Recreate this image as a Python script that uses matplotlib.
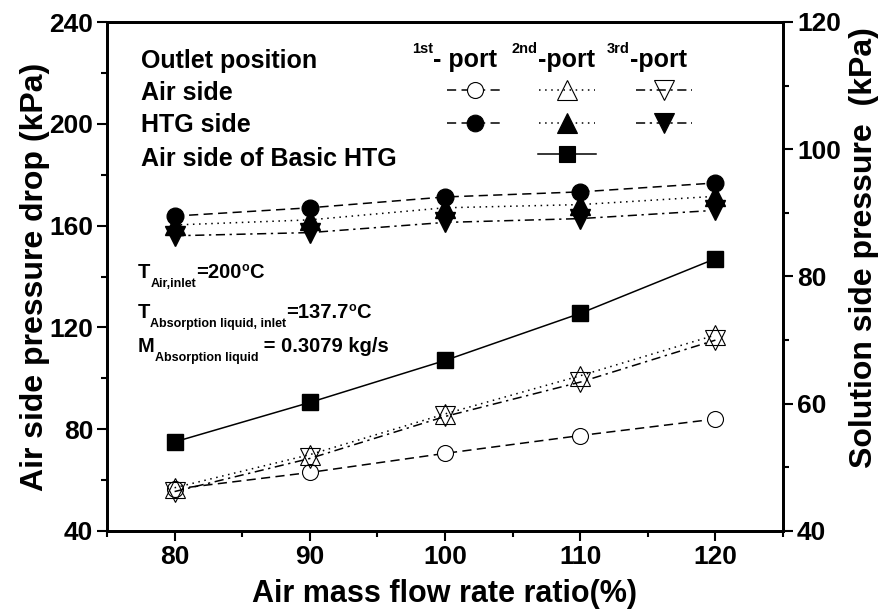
import matplotlib
matplotlib.use("Agg")
import matplotlib.pyplot as plt
from matplotlib.lines import Line2D
from matplotlib.ticker import MultipleLocator
from matplotlib.transforms import IdentityTransform

plt.rcParams['font.family'] = ['Liberation Sans', 'DejaVu Sans']
plt.rcParams['font.weight'] = 'bold'

# data
flow_ratio = [80, 90, 100, 110, 120]
air_1st = [56.5, 63, 70.5, 77.5, 84]
air_2nd = [57, 70, 86, 101, 117]
air_3rd = [55.5, 68.5, 85, 98.5, 115]
basic_htg = [75, 90.5, 107, 125.5, 147]
# solution side (right axis)
htg_1st = [89.5, 90.8, 92.5, 93.3, 94.7]
htg_2nd = [88.1, 88.9, 90.8, 91.3, 92.6]
htg_3rd = [86.4, 86.9, 88.5, 89.1, 90.4]

W, H = 883, 613
fig = plt.figure(figsize=(W / 100, H / 100), dpi=100)
ax = fig.add_axes([107 / W, 1 - 531 / H, 676 / W, 509 / H])
ax2 = ax.twinx()

DASH = (0, (6, 3.5))
DOT = (0, (1, 3))
DASHDOT = (0, (6, 3, 1.5, 3))
lw = 1.1

ax.plot(flow_ratio, basic_htg, color='k', lw=lw, ls='-', marker='s', ms=11.3, mfc='k', mec='k')
ax.plot(flow_ratio, air_1st, color='k', lw=lw, ls=DASH, marker='o', ms=11.5, mfc='white', mec='k', mew=0.8)
ax.plot(flow_ratio, air_2nd, color='k', lw=lw, ls=DOT, marker='^', ms=14, mfc='none', mec='k', mew=0.8)
ax.plot(flow_ratio, air_3rd, color='k', lw=lw, ls=DASHDOT, marker='v', ms=14, mfc='none', mec='k', mew=0.8)

ax2.plot(flow_ratio, htg_1st, color='k', lw=lw, ls=DASH, marker='o', ms=12, mfc='k', mec='k')
ax2.plot(flow_ratio, htg_2nd, color='k', lw=lw, ls=DOT, marker='^', ms=14, mfc='k', mec='k')
ax2.plot(flow_ratio, htg_3rd, color='k', lw=lw, ls=DASHDOT, marker='v', ms=14, mfc='k', mec='k')

ax.set_xlim(75, 125)
ax.set_ylim(40, 240)
ax2.set_ylim(40, 120)
ax.xaxis.set_major_locator(MultipleLocator(10))
ax.xaxis.set_minor_locator(MultipleLocator(5))
ax.yaxis.set_major_locator(MultipleLocator(40))
ax.yaxis.set_minor_locator(MultipleLocator(20))
ax2.yaxis.set_major_locator(MultipleLocator(20))
ax2.yaxis.set_minor_locator(MultipleLocator(10))

for a in (ax, ax2):
    for sp in a.spines.values():
        sp.set_linewidth(2)
    a.tick_params(which='major', direction='out', length=7, width=1.5, labelsize=19, pad=3)
    a.tick_params(which='minor', direction='out', length=4, width=1.5)

ax.set_xlabel('Air mass flow rate ratio(%)', fontsize=22, fontweight='bold', labelpad=7)
ax.set_ylabel('Air side pressure drop (kPa)', fontsize=23, fontweight='bold', labelpad=-1)
ax2.set_ylabel('Solution side pressure  (kPa)', fontsize=23, fontweight='bold')
ax2.yaxis.set_label_coords(1.098, 0.556)

fig.canvas.draw()
renderer = fig.canvas.get_renderer()


def rich(x0, y0, pieces):
    # x0, y0 = left / baseline in image pixels (y from top)
    x = x0
    for s, size, dy in pieces:
        t = fig.text(x, H - y0 + dy, s, fontsize=size, fontweight='bold',
                     transform=IdentityTransform(), ha='left', va='baseline')
        x += t.get_window_extent(renderer).width


def key(xc, yc, ls, marker, ms, mfc, half=28):
    fig.add_artist(Line2D([xc - half, xc, xc + half], [H - yc] * 3, transform=IdentityTransform(),
                          color='k', lw=lw, ls=ls, marker=marker, ms=ms, mfc=mfc, mec='k',
                          mew=0.8, markevery=[1]))


# legend table
rich(141, 68, [('Outlet position', 18, 0)])
rich(141, 100, [('Air side', 18, 0)])
rich(141, 132, [('HTG side', 18, 0)])
rich(141, 166, [('Air side of Basic HTG', 18, 0)])
rich(412, 67, [('1st', 10.5, 14), ('- port', 18, 0)])
rich(512, 67, [('2nd', 10.5, 14), ('-port', 18, 0)])
rich(607, 67, [('3rd', 10.5, 14), ('-port', 18, 0)])

key(475, 90, DASH, 'o', 11.5, 'white')
key(567, 90, DOT, '^', 14, 'none')
key(664, 90, DASHDOT, 'v', 14, 'none')
key(475, 123, DASH, 'o', 12, 'k')
key(567, 123, DOT, '^', 14, 'k')
key(664, 123, DASHDOT, 'v', 14, 'k')
key(567, 154, '-', 's', 11.3, 'k', half=29)

# operating conditions
rich(138, 278, [('T', 14.5, 0), ('Air,inlet', 9, -9), ('=200', 14.5, 0), ('o', 9, 7), ('C', 14.5, 0)])
rich(138, 318, [('T', 14.5, 0), ('Absorption liquid, inlet', 9, -8.5), ('=137.7', 14.5, 0),
                ('o', 9, 7), ('C', 14.5, 0)])
rich(138, 352, [('M', 14.5, 0), ('Absorption liquid', 9, -9.5), (' = 0.3079 kg/s', 14.5, 0)])

fig.savefig('out.png', dpi=100)
